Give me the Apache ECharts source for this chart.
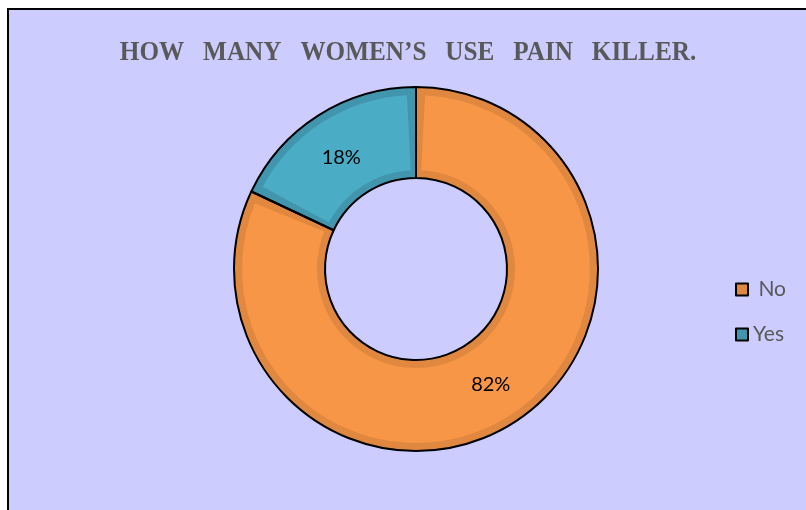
<!DOCTYPE html>
<html>
<head>
<meta charset="utf-8">
<script src="https://cdn.jsdelivr.net/npm/echarts@6/dist/echarts.min.js"></script>
<style>
  html, body { margin: 0; padding: 0; background: #ffffff; }
  #chart { width: 806px; height: 510px; }
</style>
</head>
<body>
<div id="chart"></div>
<script>
// Survey answers and their shares (percent)
const categories = ['No', 'Yes'];
const shares = [82, 18];
const titleText = 'HOW   MANY   WOMEN\u2019S   USE   PAIN   KILLER.';

// Fill colours and the slightly darker rim tone of each slice
const fillColors = ['#F79646', '#4BACC6'];
const rimColors = ['#E0883F', '#4196AE'];

// Small nudges for the percentage labels inside each slice
const labelOffsets = [[0, -2], [0, 6]];

const chart = echarts.init(document.getElementById('chart'), null, { renderer: 'canvas' });

const center = [416, 269];
const inner = 91;
const outer = 182;
const rim = 8;

// Rim layer: full ring in the darker tone
const rimData = categories.map((name, i) => ({
  name, value: shares[i],
  itemStyle: { color: rimColors[i] }
}));
// Face layer: inset ring in the lighter tone, with a gap between slices
const faceData = categories.map((name, i) => ({
  name, value: shares[i],
  itemStyle: { color: fillColors[i] }
}));
// Outline layer: black edges and the percentage labels
const outlineData = categories.map((name, i) => ({
  name, value: shares[i],
  label: { offset: labelOffsets[i] },
  itemStyle: { color: 'rgba(0,0,0,0)', borderColor: '#000000', borderWidth: 2 }
}));

chart.setOption({
  backgroundColor: '#ffffff',
  animation: false,
  graphic: [
    {
      type: 'rect',
      z: -10,
      shape: { x: 8, y: 9, width: 820, height: 520 },
      style: { fill: '#CCCCFF', stroke: '#000000', lineWidth: 2 }
    },
    {
      type: 'text',
      z: 10,
      x: 408,
      y: 53,
      scaleX: 0.9,
      style: {
        text: titleText,
        x: 0,
        y: 0,
        textAlign: 'center',
        textVerticalAlign: 'middle',
        fontFamily: 'Liberation Serif',
        fontWeight: 'bold',
        fontSize: 28,
        fill: '#595959'
      }
    }
  ],
  legend: {
    orient: 'vertical',
    left: 735,
    top: 279,
    padding: 0,
    itemWidth: 12,
    itemHeight: 12,
    itemGap: 24,
    icon: 'rect',
    data: categories,
    formatter: name => (name === 'No' ? ' ' + name : name),
    itemStyle: { borderColor: '#000000', borderWidth: 2 },
    textStyle: { fontFamily: 'Lato', fontSize: 21, color: '#595959', padding: [0, 0, 0, 0] }
  },
  color: fillColors,
  series: [
    {
      type: 'pie',
      name: 'rim',
      center: center,
      radius: [inner, outer],
      startAngle: 90,
      clockwise: true,
      silent: true,
      label: { show: false },
      labelLine: { show: false },
      data: rimData,
      z: 1
    },
    {
      type: 'pie',
      name: 'face',
      center: center,
      radius: [inner + rim, outer - rim],
      startAngle: 90,
      padAngle: 6,
      clockwise: true,
      silent: true,
      label: { show: false },
      labelLine: { show: false },
      data: faceData,
      z: 2
    },
    {
      type: 'pie',
      name: 'outline',
      center: center,
      radius: [inner, outer],
      startAngle: 90,
      clockwise: true,
      label: {
        show: true,
        position: 'inside',
        formatter: '{c}%',
        fontFamily: 'Lato',
        fontSize: 20,
        color: '#000000'
      },
      labelLine: { show: false },
      data: outlineData,
      z: 3
    }
  ]
});
</script>
</body>
</html>
